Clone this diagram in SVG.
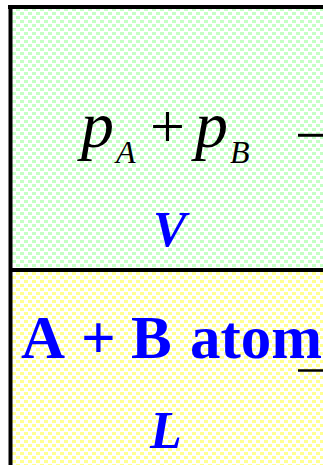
<svg xmlns="http://www.w3.org/2000/svg" width="323" height="465" viewBox="0 0 323 465">
  <defs>
    <pattern id="dotsG" x="0" y="0" width="8" height="8" patternUnits="userSpaceOnUse">
      <rect width="8" height="8" fill="#ffffff"/>
      <rect x="0" y="0" width="4" height="3" fill="#c4ffc4"/>
      <rect x="4" y="4" width="4" height="3" fill="#c4ffc4"/>
    </pattern>
    <pattern id="dotsY" x="0" y="0" width="8" height="8" patternUnits="userSpaceOnUse">
      <rect width="8" height="8" fill="#ffffff"/>
      <rect x="0" y="0" width="4" height="3" fill="#ffff90"/>
      <rect x="4" y="4" width="4" height="3" fill="#ffff90"/>
    </pattern>
  </defs>
  <style>
    .math { font-family: "Liberation Serif", "Times New Roman", serif; fill: #000; }
    .it { font-style: italic; }
    .blue { font-family: "Liberation Serif", "Times New Roman", serif; fill: #0000ff; font-weight: bold; }
    .line { stroke: #000; fill: none; }
  </style>
  <rect width="323" height="465" fill="#ffffff"/>
  <g id="vapor">
    <rect x="10" y="7" width="313" height="263" fill="url(#dotsG)"/>
    <text class="math it" x="81" y="147" font-size="66">p</text>
    <text class="math it" x="116" y="163" font-size="32">A</text>
    <text class="math" x="150" y="147" font-size="62">+</text>
    <text class="math it" x="195" y="147" font-size="66">p</text>
    <text class="math it" x="230" y="163" font-size="32">B</text>
    <text class="math" x="295" y="155" font-size="60">−</text>
    <text class="blue it" x="153" y="246" font-size="50">V</text>
  </g>
  <g id="liquid">
    <rect x="10" y="270" width="313" height="195" fill="url(#dotsY)"/>
    <text class="blue" y="358" font-size="61"><tspan x="21">A</tspan><tspan x="81">+</tspan><tspan x="131">B</tspan><tspan x="190">atom</tspan></text>
    <text class="blue it" x="150" y="448" font-size="52">L</text>
  </g>
  <g id="connectors">
    <line class="line" x1="8" y1="7" x2="323" y2="7" stroke-width="4"/>
    <line class="line" x1="10.5" y1="5" x2="10.5" y2="465" stroke-width="4"/>
    <line class="line" x1="9" y1="270" x2="323" y2="270" stroke-width="4"/>
    <line class="line" x1="298" y1="370.5" x2="323" y2="370.5" stroke-width="2.5"/>
  </g>
</svg>
